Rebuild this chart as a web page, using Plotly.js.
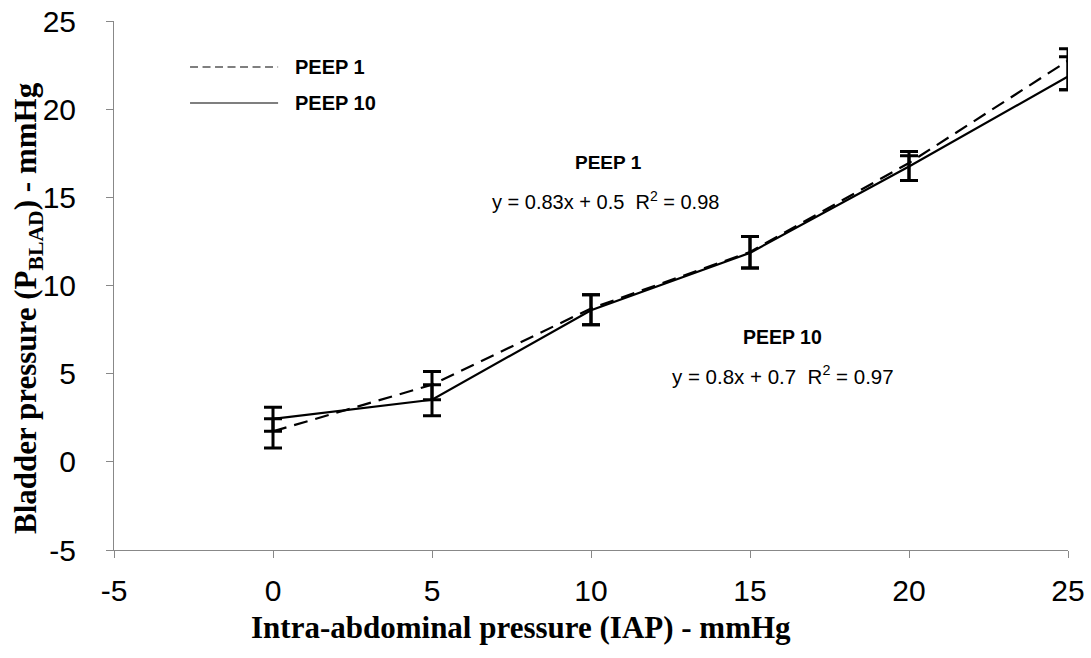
<!DOCTYPE html>
<html>
<head>
<meta charset="utf-8">
<script src="https://cdn.plot.ly/plotly-3.0.1.min.js"></script>
<style>html,body{margin:0;padding:0;background:#fff;}#chart{width:1091px;height:658px;}</style>
</head>
<body>
<div id="chart"></div>
<script>
// Data
const iap = [0, 5, 10, 15, 20, 25];
const peep1 = [1.73, 4.37, 8.7, 11.9, 16.95, 22.75];
const peep1ErrPlus = [0.71, 0.75, 0.77, 0.88, 0.65, 0.68];
const peep1ErrMinus = [0.94, 0.85, 0.93, 0.91, 0.99, 1.65];
const peep10 = [2.44, 3.52, 8.6, 11.85, 16.75, 21.85];
const peep10ErrPlus = [0.66, 0.85, 0.87, 0.93, 0.61, 1.12];
const peep10ErrMinus = [0.71, 0.91, 0.83, 0.86, 0.79, 0.75];
const xTicks = [-5, 0, 5, 10, 15, 20, 25];
const yTicks = [-5, 0, 5, 10, 15, 20, 25];

const errStyle = {type: 'data', symmetric: false, color: '#000', thickness: 3, width: 9};

const traces = [
  {
    x: iap, y: peep1, name: 'PEEP 1', mode: 'lines', type: 'scatter', cliponaxis: false,
    line: {color: '#000', width: 2.2, dash: '14px,8px'},
    error_y: Object.assign({array: peep1ErrPlus, arrayminus: peep1ErrMinus}, errStyle)
  },
  {
    x: iap, y: peep10, name: 'PEEP 10', mode: 'lines', type: 'scatter', cliponaxis: false,
    line: {color: '#000', width: 2.2},
    error_y: Object.assign({array: peep10ErrPlus, arrayminus: peep10ErrMinus}, errStyle)
  }
];

const sans = 'Liberation Sans, Arial, sans-serif';
const serif = 'Liberation Serif, Times New Roman, serif';

const axisCommon = {
  showgrid: false, zeroline: false, showline: true, linecolor: '#888', linewidth: 1,
  ticks: 'outside', ticklen: 7, tickcolor: '#888', tickwidth: 1,
  tickfont: {family: sans, size: 30, color: '#000'},
  tickmode: 'array'
};

const layout = {
  width: 1091, height: 658,
  margin: {l: 114, r: 23, t: 21, b: 108},
  paper_bgcolor: '#fff', plot_bgcolor: '#fff',
  showlegend: false,
  xaxis: Object.assign({}, axisCommon, {
    range: [-5, 25], tickvals: xTicks, ticktext: xTicks.map(String), ticklabelstandoff: 7
  }),
  yaxis: Object.assign({}, axisCommon, {
    range: [-5, 25], tickvals: yTicks, ticktext: yTicks.map(String), ticklabelstandoff: 24
  }),
  shapes: [
    {type: 'line', xref: 'paper', yref: 'paper', x0: 0.0797, x1: 0.172, y0: 0.913, y1: 0.913,
     line: {color: '#000', width: 1.2, dash: '8px,4.5px'}},
    {type: 'line', xref: 'paper', yref: 'paper', x0: 0.0797, x1: 0.172, y0: 0.845, y1: 0.845,
     line: {color: '#000', width: 1.2}}
  ],
  annotations: [
    {xref: 'paper', yref: 'paper', x: 0.4266, y: -0.1474, xanchor: 'center', yanchor: 'middle', showarrow: false,
     text: '<b>Intra-abdominal pressure (IAP) - mmHg</b>', font: {family: serif, size: 31, color: '#000'}},
    {xref: 'paper', yref: 'paper', x: -0.0901, y: 0.4575, xanchor: 'center', yanchor: 'middle', showarrow: false,
     textangle: -90,
     text: '<b>Bladder pressure (P<sub>BLAD</sub>) - mmHg</b>', font: {family: serif, size: 31, color: '#000'}},
    {xref: 'paper', yref: 'paper', x: 0.1876, y: 0.913, xanchor: 'left', yanchor: 'middle', showarrow: false,
     text: '<b>PEEP 1</b>', font: {family: sans, size: 20, color: '#000'}},
    {xref: 'paper', yref: 'paper', x: 0.1876, y: 0.845, xanchor: 'left', yanchor: 'middle', showarrow: false,
     text: '<b>PEEP 10</b>', font: {family: sans, size: 20, color: '#000'}},
    {xref: 'paper', yref: 'paper', x: 0.518, y: 0.733, xanchor: 'center', yanchor: 'middle', showarrow: false,
     text: '<b>PEEP 1</b>', font: {family: sans, size: 19, color: '#000'}},
    {xref: 'paper', yref: 'paper', x: 0.515, y: 0.66, xanchor: 'center', yanchor: 'middle', showarrow: false,
     text: 'y = 0.83x + 0.5  R<sup>2</sup> = 0.98', font: {family: sans, size: 20, color: '#000'}},
    {xref: 'paper', yref: 'paper', x: 0.701, y: 0.403, xanchor: 'center', yanchor: 'middle', showarrow: false,
     text: '<b>PEEP 10</b>', font: {family: sans, size: 19.5, color: '#000'}},
    {xref: 'paper', yref: 'paper', x: 0.701, y: 0.331, xanchor: 'center', yanchor: 'middle', showarrow: false,
     text: 'y = 0.8x + 0.7  R<sup>2</sup> = 0.97', font: {family: sans, size: 20.5, color: '#000'}}
  ]
};

Plotly.newPlot('chart', traces, layout, {displayModeBar: false, staticPlot: true});
</script>
</body>
</html>
